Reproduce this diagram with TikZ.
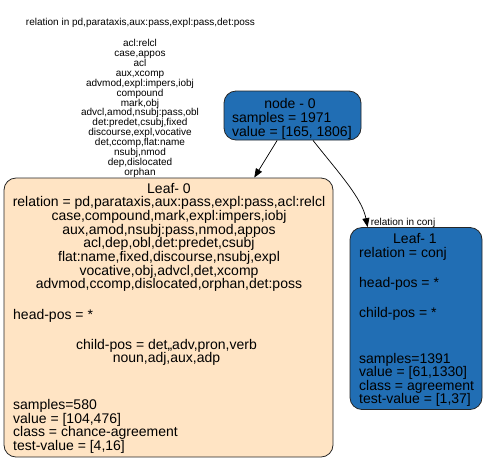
\documentclass[tikz,border=0pt]{standalone}
\usepackage{fontspec}
\setmainfont{Liberation Sans}
\usetikzlibrary{arrows.meta,calc}
\definecolor{nodeblue}{RGB}{33,110,180}
\definecolor{leafbisque}{RGB}{255,228,196}
\begin{document}
\begin{tikzpicture}[x=1pt,y=-1pt,
  box/.style={draw=black!85,line width=0.8pt,rounded corners=12pt,inner sep=0pt},
  txt/.style={inner sep=0pt,font=\fontsize{14}{16}\selectfont},
  small/.style={inner sep=0pt,font=\fontsize{10}{12}\selectfont},
  edge/.style={-{Triangle[length=9pt,width=7pt]},line width=0.7pt}]
\useasboundingbox (0,0) rectangle (486,464);
% boxes
\node[box,fill=nodeblue,minimum width=137pt,minimum height=49pt] (n0) at (292.5,115.5) {};
\node[box,fill=leafbisque,minimum width=329pt,minimum height=279pt] (l0) at (168.5,317.5) {};
\node[box,fill=nodeblue,minimum width=132pt,minimum height=182pt] (l1) at (416,318.5) {};
% edges
\draw[edge] (n0) -- (l0);
\coordinate (e2s) at ($(n0.south)+(20.5,0)$);
\coordinate (e2t) at ($(l1.north west)+(18,0)$);
\draw[edge] (e2s) .. controls (338,172) and (362,198) .. (e2t);
% edge labels
\node[small,anchor=base] (lab0) at (140.5,25.5) {relation in pd,parataxis,aux:pass,expl:pass,det:poss};
\foreach \t [count=\i] in {{acl:relcl},{case,appos},{acl},{aux,xcomp},{advmod,expl:impers,iobj},{compound},{mark,obj},{advcl,amod,nsubj:pass,obl},{det:predet,csubj,fixed},{discourse,expl,vocative},{det,ccomp,flat:name},{nsubj,nmod},{dep,dislocated},{orphan}}
  \node[small,anchor=base] (st\i) at (140,{46.5+(\i-1)*9.92}) {\t};
\node[small,anchor=base] (lab2) at (403,225.5) {relation in conj};
% node 0 text
\node[txt,anchor=base] (t0a) at (290,108) {node - 0};
\node[txt,anchor=base west] (t0b) at (232,122.5) {samples = 1971};
\node[txt,anchor=base west] (t0c) at (232,136) {value = [165, 1806]};
% leaf 0 text
\foreach \t [count=\i] in {{Leaf- 0},{relation = pd,parataxis,aux:pass,expl:pass,acl:relcl},{case,compound,mark,expl:impers,iobj},{aux,amod,nsubj:pass,nmod,appos},{acl,dep,obl,det:predet,csubj},{flat:name,fixed,discourse,nsubj,expl},{vocative,obj,advcl,det,xcomp},{advmod,ccomp,dislocated,orphan,det:poss}}
  \node[txt,anchor=base] (la\i) at (169,{193+(\i-1)*13.7}) {\t};
\node[txt,anchor=base west] (lhp) at (13,319) {head-pos = *};
\node[txt,anchor=base] (lcp1) at (166.5,349) {child-pos = det,,adv,pron,verb};
\node[txt,anchor=base] (lcp2) at (166.5,362.7) {noun,adj,aux,adp};
\foreach \t [count=\i] in {{samples=580},{value = [104,476]},{class = chance-agreement},{test-value = [4,16]}}
  \node[txt,anchor=base west] (ls\i) at (13,{409.5+(\i-1)*13.55}) {\t};
% leaf 1 text
\node[txt,anchor=base] (ra) at (415,243) {Leaf- 1};
\node[txt,anchor=base west] (rb) at (359,257) {relation = conj};
\node[txt,anchor=base west] (rc) at (359,287) {head-pos = *};
\node[txt,anchor=base west] (rd) at (359,317.5) {child-pos = *};
\foreach \t [count=\i] in {{samples=1391},{value = [61,1330]},{class = agreement},{test-value = [1,37]}}
  \node[txt,anchor=base west] (rs\i) at (359,{363+(\i-1)*13.6}) {\t};
\end{tikzpicture}
\end{document}
